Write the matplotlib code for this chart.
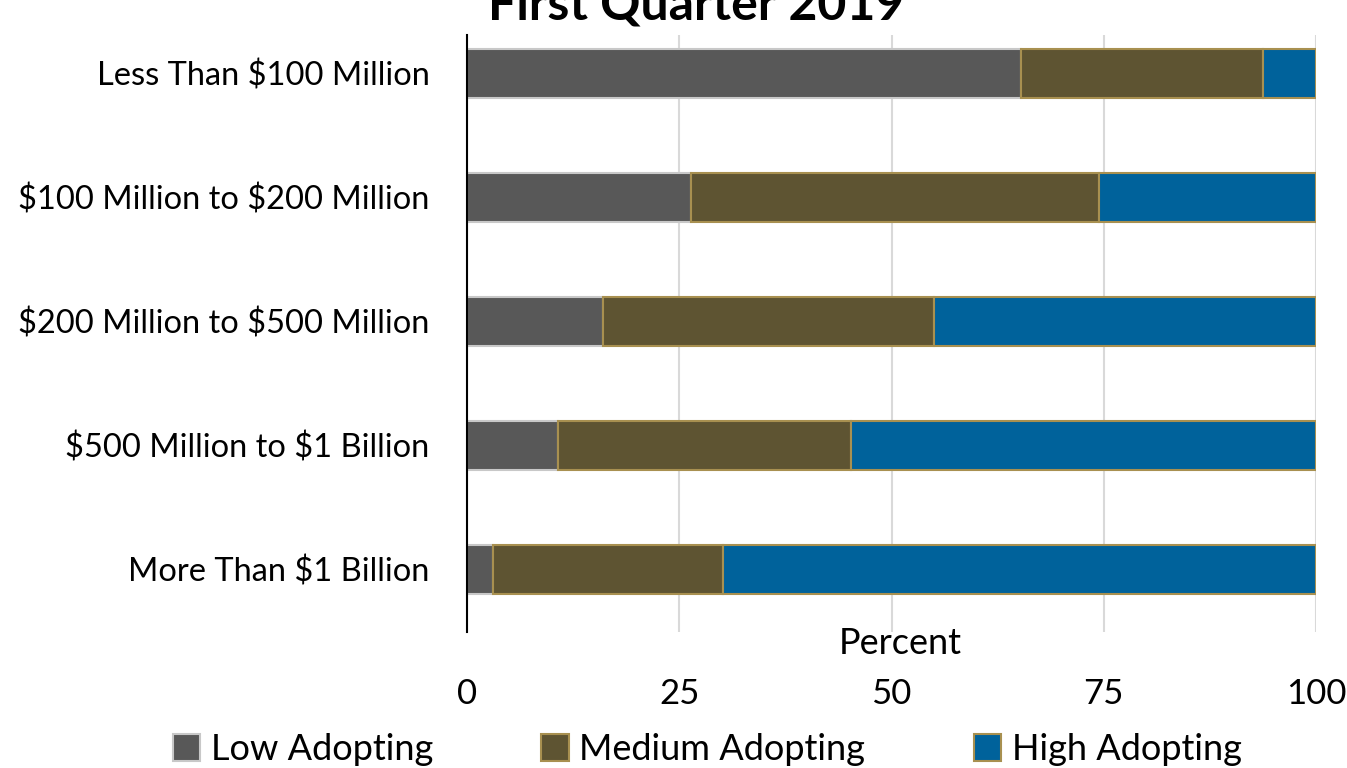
import numpy as np
import matplotlib.pyplot as plt

plt.rcParams['font.family'] = ['Lato', 'DejaVu Sans']

categories = ['Less Than \\$100 Million', '\\$100 Million to \\$200 Million',
              '\\$200 Million to \\$500 Million', '\\$500 Million to \\$1 Billion',
              'More Than \\$1 Billion']
low = [65.3, 26.4, 16.0, 10.7, 3.1]
medium = [28.5, 48.0, 39.0, 34.5, 27.1]
high = [6.2, 25.6, 45.0, 54.8, 69.8]
series_names = ['Low Adopting', 'Medium Adopting', 'High Adopting']

fig = plt.figure(figsize=(13.47, 7.68), dpi=100)
ax = fig.add_axes([0.3467, 0.177, 0.6303, 0.777])

y = np.arange(len(categories))
h = 0.395
left = np.zeros(len(categories))
colors = ['#585858', '#5e5432', '#00629b']
edges = ['#c8c8c8', '#a89050', '#a89050']
for vals, name, c, e in zip([low, medium, high], series_names, colors, edges):
    ax.barh(y, vals, left=left, height=h, color=c, edgecolor=e, linewidth=1.5,
            label=name, zorder=3)
    left = left + np.array(vals)

ax.set_ylim(4.508, -0.306)
ax.set_xlim(0, 100)
ax.set_yticks(y)
ax.set_yticklabels(categories, fontsize=23.5)
ax.set_xticks([0, 25, 50, 75, 100])
ax.set_xticklabels(['0', '25', '50', '75', '100'], fontsize=25)
ax.tick_params(axis='x', length=0, pad=33)
ax.tick_params(axis='y', length=0, pad=27)
ax.grid(axis='x', color='#d9d9d9', linewidth=1.5, zorder=0)
for s in ['top', 'right', 'bottom']:
    ax.spines[s].set_visible(False)
ax.spines['left'].set_linewidth(1.5)
ax.spines['left'].set_zorder(4)

ax.text(51, 4.47, 'Percent', fontsize=26, ha='center', va='top')

fig.text(0.517, 0.974, 'First Quarter 2019', fontsize=36, fontweight='bold',
         ha='center', va='baseline')

fig.legend(loc='lower center', bbox_to_anchor=(0.525, -0.04), ncol=3,
           fontsize=26, frameon=False, handlelength=0.75, handleheight=0.75,
           handletextpad=0.3, columnspacing=3.0)

fig.savefig('out.png', dpi=100)
